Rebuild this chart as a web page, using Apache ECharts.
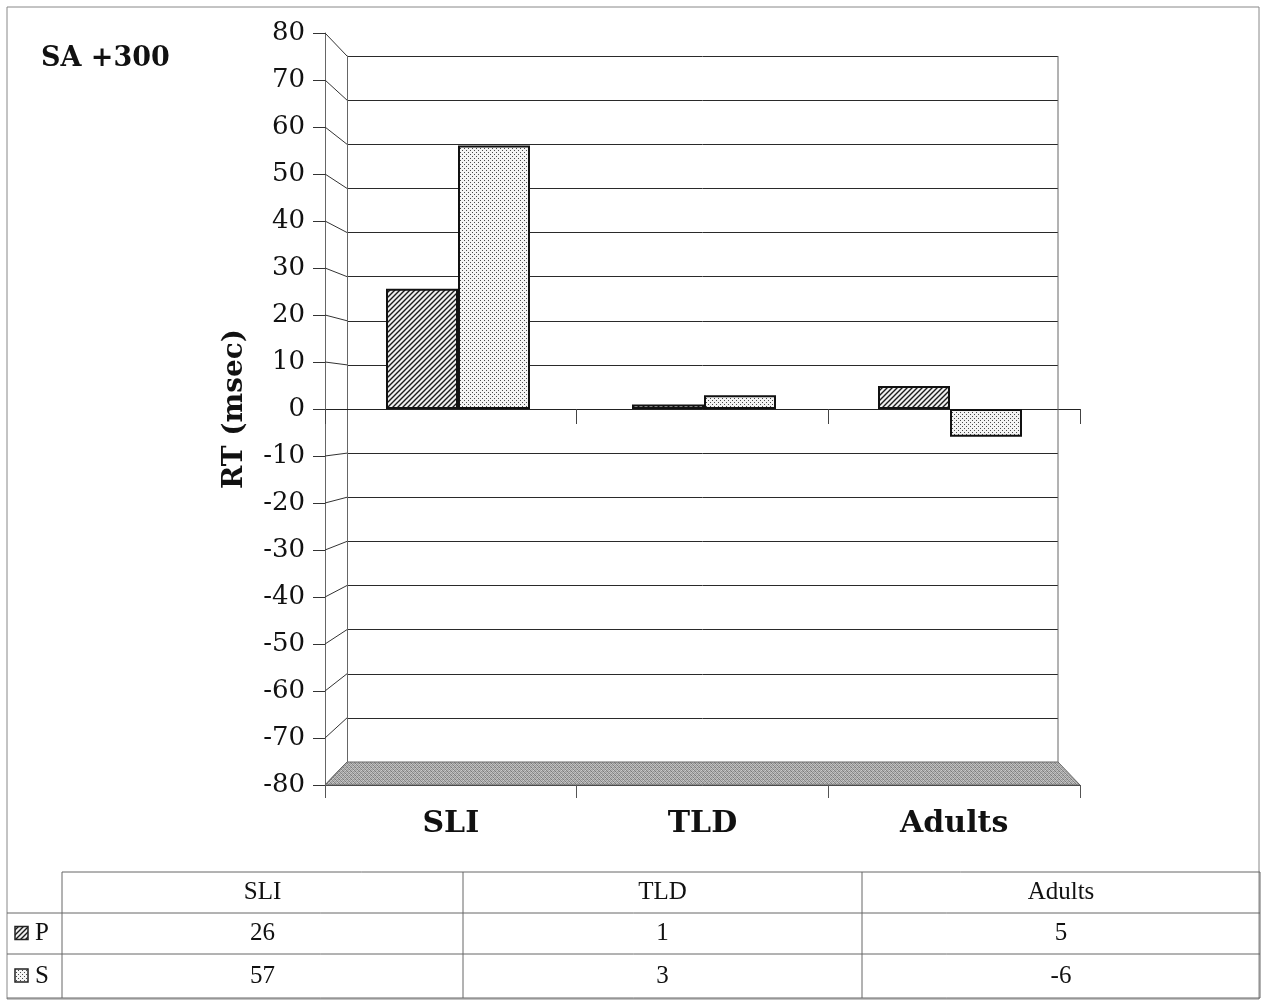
<!DOCTYPE html>
<html><head><meta charset="utf-8">
<script src="https://cdn.jsdelivr.net/npm/echarts@6/dist/echarts.min.js"></script>
<style>html,body{margin:0;padding:0;background:#fff}#c{width:1262px;height:1004px}</style>
</head><body><div id="c"></div>
<script>
// ---------------- data ----------------
const chartTitle = 'SA +300';
const yAxisTitle = 'RT (msec)';
const categories = ['SLI', 'TLD', 'Adults'];
const seriesNames = ['P', 'S'];
const valuesP = [26, 1, 5];
const valuesS = [57, 3, -6];
const yMin = -80, yMax = 80, yStep = 10;

// ---------------- layout ----------------
const FRONT = {left: 325, top: 33, right: 1080, bottom: 785};
const BACK = {left: 347, top: 56, right: 1058, bottom: 762};
const BARS = {left: 335, top: 39, right: 1073, bottom: 779};
const TABLE_COLS = [62, 463, 862, 1260];
const TABLE_ROWS = [872, 913, 954, 998];
const TABLE_LEFT = 7;

// ---------------- patterns ----------------
function hatchPattern() {
  const c = document.createElement('canvas'); c.width = c.height = 5;
  const g = c.getContext('2d');
  g.fillStyle = '#efefef'; g.fillRect(0, 0, 5, 5);
  g.strokeStyle = '#1a1a1a'; g.lineWidth = 1.4; g.beginPath();
  g.moveTo(-1, 6); g.lineTo(6, -1);
  g.moveTo(-1, 1); g.lineTo(1, -1);
  g.moveTo(4, 6); g.lineTo(6, 4);
  g.stroke();
  return c;
}
function dotPattern() {
  const c = document.createElement('canvas'); c.width = c.height = 4;
  const g = c.getContext('2d');
  g.fillStyle = '#f4f4f4'; g.fillRect(0, 0, 4, 4);
  g.fillStyle = '#4a4a4a'; g.fillRect(0, 0, 1, 1); g.fillRect(2, 2, 1, 1);
  return c;
}
function floorPattern() {
  const c = document.createElement('canvas'); c.width = c.height = 4;
  const g = c.getContext('2d');
  const shades = ['#8a8a8a', '#bdbdbd', '#a0a0a0', '#c8c8c8',
                  '#b2b2b2', '#7e7e7e', '#c2c2c2', '#9a9a9a',
                  '#a4a4a4', '#cccccc', '#848484', '#b6b6b6',
                  '#c0c0c0', '#969696', '#aeaeae', '#7a7a7a'];
  for (let i = 0; i < 16; i++) { g.fillStyle = shades[i]; g.fillRect(i % 4, Math.floor(i / 4), 1, 1); }
  return c;
}
const patP = {image: hatchPattern(), repeat: 'repeat'};
const patS = {image: dotPattern(), repeat: 'repeat'};
const patFloor = {image: floorPattern(), repeat: 'repeat'};
const seriesPatterns = [patP, patS];
const seriesValues = [valuesP, valuesS];

const SERIF = 'DejaVu Serif';
const TSERIF = 'Liberation Serif';

function gridOf(r) { return {left: r.left, top: r.top, width: r.right - r.left, height: r.bottom - r.top}; }

const chart = echarts.init(document.getElementById('c'), null, {renderer: 'canvas'});

const option = {
  animation: false,
  backgroundColor: '#ffffff',
  title: {
    text: chartTitle, left: 36, top: 40,
    textStyle: {fontFamily: SERIF, fontWeight: 'bold', fontSize: 27, color: '#111'}
  },
  grid: [gridOf(FRONT), gridOf(BACK), gridOf(BARS), gridOf(FRONT)],
  xAxis: [
    {gridIndex: 0, type: 'category', data: categories, position: 'bottom',
     axisLine: {onZero: false, lineStyle: {color: '#333', width: 1}},
     axisTick: {show: true, length: 13, lineStyle: {color: '#555'}},
     axisLabel: {fontFamily: SERIF, fontWeight: 'bold', fontSize: 30, color: '#111', margin: 24},
     splitLine: {show: false}},
    {gridIndex: 1, type: 'category', data: categories, show: false},
    {gridIndex: 2, type: 'category', data: categories, show: false},
    {gridIndex: 3, type: 'category', data: categories, position: 'bottom',
     axisLine: {onZero: true, lineStyle: {color: '#222', width: 1}},
     axisTick: {show: true, length: 15, lineStyle: {color: '#444'}},
     axisLabel: {show: false}, splitLine: {show: false}}
  ],
  yAxis: [
    {gridIndex: 0, type: 'value', min: yMin, max: yMax, interval: yStep,
     axisLine: {show: true, lineStyle: {color: '#666', width: 1}},
     axisTick: {show: true, length: 12, lineStyle: {color: '#333'}},
     axisLabel: {fontFamily: SERIF, fontSize: 26, color: '#111', margin: 20},
     splitLine: {show: false},
     name: yAxisTitle, nameLocation: 'middle', nameGap: 76, nameRotate: 90,
     nameTextStyle: {fontFamily: SERIF, fontWeight: 'bold', fontSize: 28, color: '#111'}},
    {gridIndex: 1, type: 'value', min: yMin, max: yMax, interval: yStep,
     axisLine: {show: true, lineStyle: {color: '#666', width: 1}},
     axisTick: {show: false}, axisLabel: {show: false},
     splitLine: {show: true, lineStyle: {color: '#2a2a2a', width: 1}}},
    {gridIndex: 2, type: 'value', min: yMin, max: yMax, interval: yStep, show: false, splitLine: {show: false}},
    {gridIndex: 3, type: 'value', min: yMin, max: yMax, interval: yStep, show: false, splitLine: {show: false}}
  ],
  series: seriesNames.map((n, i) => ({
    name: n, type: 'bar', xAxisIndex: 2, yAxisIndex: 2,
    data: seriesValues[i], barWidth: 72, barGap: '0%', z: 5,
    itemStyle: {color: seriesPatterns[i], borderColor: '#111', borderWidth: 2}
  }))
};
chart.setOption(option);

// ---------------- decorative 3D frame (positions from axis scales) ----------------
const yF = v => chart.convertToPixel({yAxisIndex: 0}, v);
const yB = v => chart.convertToPixel({yAxisIndex: 1}, v);
const graphics = [];
for (let v = yMin; v <= yMax; v += yStep) {
  if (v === 0) continue;
  graphics.push({type: 'line', z: 3, silent: true,
    shape: {x1: FRONT.left, y1: yF(v), x2: BACK.left, y2: yB(v)},
    style: {stroke: '#333', lineWidth: 1}});
}
// back wall right edge
graphics.push({type: 'line', z: 3, silent: true,
  shape: {x1: BACK.right, y1: yB(yMax), x2: BACK.right, y2: yB(yMin)},
  style: {stroke: '#666', lineWidth: 1}});
// floor
graphics.push({type: 'polygon', z: 4, silent: true,
  shape: {points: [[BACK.left, yB(yMin)], [BACK.right, yB(yMin)], [FRONT.right, yF(yMin)], [FRONT.left, yF(yMin)]]},
  style: {fill: patFloor, stroke: '#666', lineWidth: 1}});

// ---------------- data table ----------------
const line = (x1, y1, x2, y2, c) => ({type: 'line', z: 3, silent: true,
  shape: {x1, y1, x2, y2}, style: {stroke: c || '#666', lineWidth: 1}});
const text = (t, x, y, align) => ({type: 'text', z: 6, silent: true, x, y,
  style: {text: t, font: '25px "' + TSERIF + '"', fill: '#111', align: align || 'center', verticalAlign: 'middle'}});

graphics.push(line(TABLE_COLS[0], TABLE_ROWS[0], TABLE_COLS[3], TABLE_ROWS[0]));
for (let r = 1; r < TABLE_ROWS.length; r++) graphics.push(line(TABLE_LEFT, TABLE_ROWS[r], TABLE_COLS[3], TABLE_ROWS[r]));
for (let c = 0; c < TABLE_COLS.length; c++) graphics.push(line(TABLE_COLS[c], TABLE_ROWS[0], TABLE_COLS[c], TABLE_ROWS[3]));
// outer chart border
graphics.push({type: 'rect', z: 2, silent: true, shape: {x: 7, y: 7, width: 1252, height: 992},
  style: {fill: null, stroke: '#888', lineWidth: 1}});

categories.forEach((cat, i) => {
  const cx = (TABLE_COLS[i] + TABLE_COLS[i + 1]) / 2;
  graphics.push(text(cat, cx, (TABLE_ROWS[0] + TABLE_ROWS[1]) / 2));
  seriesValues.forEach((vals, s) => {
    graphics.push(text(String(vals[i]), cx, (TABLE_ROWS[s + 1] + TABLE_ROWS[s + 2]) / 2));
  });
});
seriesNames.forEach((n, s) => {
  const cy = (TABLE_ROWS[s + 1] + TABLE_ROWS[s + 2]) / 2;
  graphics.push({type: 'rect', z: 6, silent: true, shape: {x: 15, y: cy - 7, width: 13, height: 13},
    style: {fill: seriesPatterns[s], stroke: '#222', lineWidth: 1.5}});
  graphics.push(text(n, 35, cy, 'left'));
});

chart.setOption({graphic: graphics});
</script>
</body></html>
